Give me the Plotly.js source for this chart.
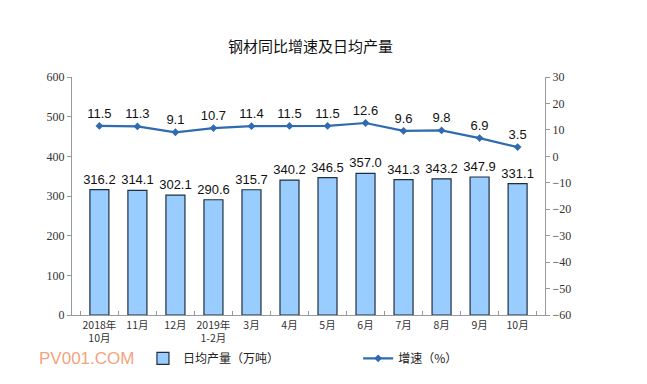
<!DOCTYPE html>
<html><head><meta charset="utf-8">
<script src="https://cdn.plot.ly/plotly-3.0.1.min.js"></script>
<style>body{margin:0;background:#fff}#c{width:647px;height:384px}</style>
</head><body><div id="c"></div>
<script>
const categories = ["2018年<br>10月","11月","12月","2019年<br>1-2月","3月","4月","5月","6月","7月","8月","9月","10月"];
const dailyOutput = [316.2,314.1,302.1,290.6,315.7,340.2,346.5,357.0,341.3,343.2,347.9,331.1];
const growth = [11.5,11.3,9.1,10.7,11.4,11.5,11.5,12.6,9.6,9.8,6.9,3.5];
const leftTicks = [0,100,200,300,400,500,600];
const rightTicks = [-60,-50,-40,-30,-20,-10,0,10,20,30];

const bar = {
  type:'bar', x:categories, y:dailyOutput, name:'日均产量（万吨）', legend:'legend',
  marker:{color:'#99ccff', line:{color:'#1f2f3f', width:1.2}},
  text:dailyOutput.map(v=>v.toFixed(1)), textposition:'outside', cliponaxis:false, constraintext:'none',
  textfont:{family:'Liberation Sans, Arial', size:13, color:'#111'},
  width:0.5, hoverinfo:'skip'
};
const line = {
  type:'scatter', mode:'lines+markers+text', x:categories, y:growth, yaxis:'y2', name:'增速（%）', legend:'legend2',
  line:{color:'#2e6bb0', width:2.2}, marker:{symbol:'diamond', size:6, color:'#2e6bb0'},
  text:growth.map(v=>v.toFixed(1)), textposition:'top center', cliponaxis:false,
  textfont:{family:'Liberation Sans, Arial', size:13, color:'#111'}
};
const legFont = {family:'Noto Sans CJK SC', size:12, color:'#222'};
const layout = {
  width:647, height:384, margin:{l:72, r:102, t:77, b:69, autoexpand:false},
  paper_bgcolor:'#fff', plot_bgcolor:'#fff', showlegend:true,
  title:{text:'钢材同比增速及日均产量', x:0.48, xanchor:'center', y:0.878, yanchor:'middle',
    font:{family:'Noto Sans CJK SC', size:15, color:'#111'}},
  xaxis:{tickvals:categories, ticktext:categories, tickangle:0, showline:true, linecolor:'#999', linewidth:1,
    ticks:'inside', tickson:'boundaries', ticklen:4, tickcolor:'#999',
    tickfont:{family:'Noto Sans CJK SC', size:10.5, color:'#333'}, showgrid:false, fixedrange:true},
  yaxis:{range:[0,600], tickvals:leftTicks, showline:true, linecolor:'#999', linewidth:1,
    ticks:'outside', ticklen:4, tickcolor:'#999', showgrid:false, zeroline:false,
    tickfont:{family:'Liberation Serif', size:12, color:'#333'}},
  yaxis2:{range:[-60,30], tickvals:rightTicks, overlaying:'y', side:'right', showline:true,
    linecolor:'#999', linewidth:1, ticks:'outside', ticklen:4, tickcolor:'#999', showgrid:false, zeroline:false,
    tickfont:{family:'Liberation Serif', size:12, color:'#333'}},
  legend:{orientation:'h', x:0.15, xanchor:'left', y:-0.182, yanchor:'middle', font:legFont, bgcolor:'rgba(0,0,0,0)', tracegroupgap:0},
  legend2:{orientation:'h', x:0.605, xanchor:'left', y:-0.182, yanchor:'middle', font:legFont, bgcolor:'rgba(0,0,0,0)', tracegroupgap:0},
  annotations:[{text:'PV001.COM', xref:'paper', yref:'paper', x:-0.075, xanchor:'left', y:-0.182, yanchor:'middle',
    showarrow:false, font:{family:'Liberation Sans, Arial', size:17, color:'#f4a380'}}]
};
Plotly.newPlot('c',[bar,line],layout,{displayModeBar:false,staticPlot:true});
</script></body></html>
